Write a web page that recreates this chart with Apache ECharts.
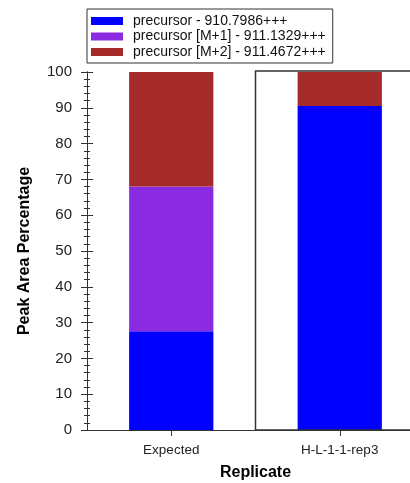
<!DOCTYPE html>
<html>
<head>
<meta charset="utf-8">
<script src="https://cdn.jsdelivr.net/npm/echarts@6/dist/echarts.min.js"></script>
<style>
html,body{margin:0;padding:0;background:#fff;}
#chart{width:410px;height:483px;}
</style>
</head>
<body>
<div id="chart"></div>
<script>
const categories = ['Expected', 'H-L-1-1-rep3'];
const seriesNames = ['precursor - 910.7986+++', 'precursor [M+1] - 911.1329+++', 'precursor [M+2] - 911.4672+++'];
const precursor = [27.6, 90.5];
const precursorM1 = [40.4, 0];
const precursorM2 = [32.0, 9.5];
const selected = [0, 1];
const yTicks = [0, 10, 20, 30, 40, 50, 60, 70, 80, 90, 100];
const colors = ['#0000FF', '#8A2BE2', '#A52A2A'];

const chart = echarts.init(document.getElementById('chart'), null, {renderer: 'canvas'});
const font = 'Liberation Sans, Arial, sans-serif';
const axisCol = '#333';

function yAx(inside, showLabel) {
  return {
    type: 'value', position: 'left', min: yTicks[0], max: yTicks[yTicks.length - 1], interval: 10,
    axisLine: {show: true, lineStyle: {color: axisCol, width: 1}},
    axisTick: {show: true, inside: inside, length: 6, lineStyle: {color: axisCol}},
    minorTick: {show: true, splitNumber: 5, length: 3, lineStyle: {color: axisCol}},
    splitLine: {show: false},
    axisLabel: {show: showLabel, margin: 15, fontSize: 15, color: '#222', fontFamily: font},
    name: showLabel ? 'Peak Area Percentage' : '',
    nameLocation: 'middle', nameGap: 54,
    nameTextStyle: {fontSize: 16, fontWeight: 'bold', color: '#000', fontFamily: font}
  };
}
function xAx(inside, showLabel) {
  return {
    type: 'category', position: 'bottom', data: categories,
    axisLine: {show: true, lineStyle: {color: axisCol, width: 1}},
    axisTick: {show: true, inside: inside, alignWithLabel: true, length: 6, lineStyle: {color: axisCol}},
    axisLabel: {show: showLabel, margin: 13, fontSize: 13.5, color: '#222', fontFamily: font},
    name: showLabel ? 'Replicate' : '',
    nameLocation: 'middle', nameGap: 35,
    nameTextStyle: {fontSize: 16, fontWeight: 'bold', color: '#000', fontFamily: font}
  };
}

const barData = [precursor, precursorM1, precursorM2];
const series = seriesNames.map((n, i) => ({
  name: n, type: 'bar', stack: 'total', barWidth: '50%',
  data: barData[i], itemStyle: {color: colors[i]}, xAxisIndex: 0, yAxisIndex: 0
}));
series.push({
  type: 'custom', name: 'selection', xAxisIndex: 0, yAxisIndex: 0, z: 5, silent: true, clip: false,
  data: selected.map((s, i) => [i, s]),
  encode: {x: 0, y: 1},
  renderItem: function (params, api) {
    if (!api.value(1)) return null;
    const c = api.value(0);
    const p0 = api.coord([c, yTicks[0]]);
    const p1 = api.coord([c, yTicks[yTicks.length - 1]]);
    const w = api.size([1, 0])[0];
    return {
      type: 'rect',
      shape: {x: p0[0] - w / 2, y: p1[1] - 1, width: w, height: p0[1] - p1[1] + 1},
      style: {fill: 'none', stroke: '#333', lineWidth: 1.5}
    };
  }
});

chart.setOption({
  animation: false,
  backgroundColor: '#fff',
  grid: {left: 87, top: 72, width: 337, height: 358, containLabel: false, outerBoundsMode: 'none'},
  legend: {
    data: seriesNames, orient: 'vertical', left: 87, top: 9,
    itemWidth: 32, itemHeight: 8, itemGap: 1.5,
    padding: [5, 7, 4, 4],
    borderColor: '#333', borderWidth: 1,
    icon: 'rect',
    textStyle: {fontSize: 14, lineHeight: 14, color: '#111', fontFamily: font, padding: [0, 0, 0, 5]}
  },
  xAxis: [xAx(false, true), xAx(true, false)],
  yAxis: [yAx(false, true), yAx(true, false)],
  series: series
});
</script>
</body>
</html>
